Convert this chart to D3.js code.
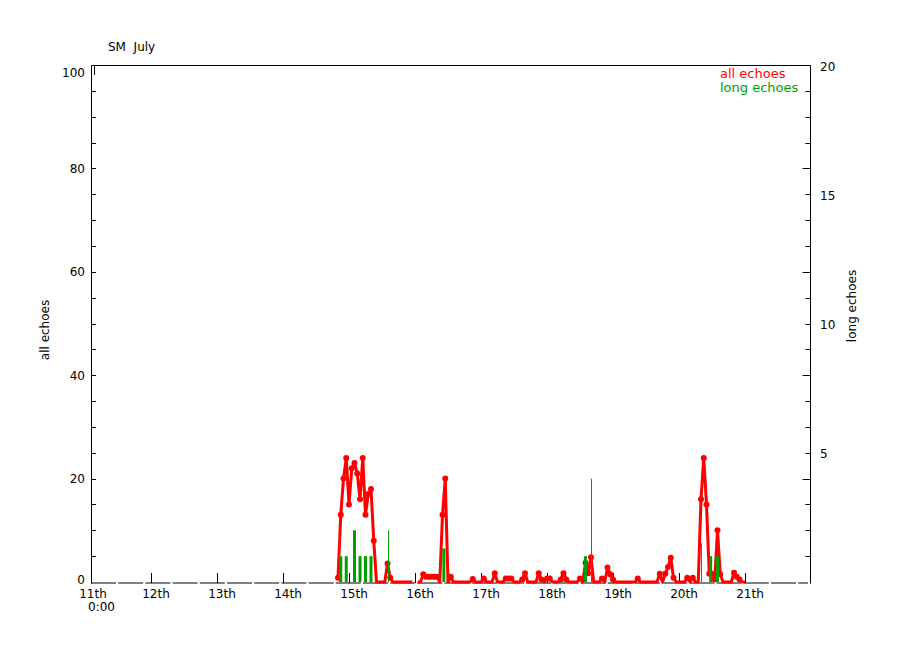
<!DOCTYPE html>
<html><head><meta charset="utf-8">
<script src="https://cdn.jsdelivr.net/npm/d3@7"></script>
<style>
body{margin:0;background:#fff}
svg{display:block}
text{font-family:"DejaVu Sans",sans-serif;font-size:12px;fill:#000}
</style>
</head><body>
<svg id="chart" width="900" height="650"></svg>
<script>
// ---------- data ----------
const title = "SM  July";
const dayLabels = ["11th","12th","13th","14th","15th","16th","17th","18th","19th","20th","21th"];
const dayTicks = [0,1,2,3,4,5,6,7,8,9,10];          // days after 11th 0:00
const leftTickLabels = [0,20,40,60,80,100];
const rightTickLabels = [5,10,15,20];

// all echoes, hourly, starting at hour 92 (14th 20:00); null = no data
const allStartHour = 92;
const allEchoes = [
  0.8, 13, 20, 24, 15, 22, 23, 21, 16, 24, 13, 17,      // 92-103
  18, 8, 0, 0, 0, 0, 3.6, 0.8, 0, 0, 0, 0,              // 104-115
  0, 0, 0, 0, null, 0, 0, 1.5, 1, 1, 1, 1,              // 116-127
  1, 0, 13, 20, 0, 1, 0, 0, 0, 0, 0, 0,                 // 128-139
  0, 0.6, 0, 0, 0, 0.7, 0, 0, 0, 1.7, 0, 0,             // 140-151
  0, 0.7, 0.7, 0.7, 0, 0, 0, 0.5, 1.7, 0, 0, 0,         // 152-163
  0, 1.7, 0.5, 0, 0.7, 0.7, 0, 0, 0, 0.5, 1.7, 0.5,     // 164-175
  0, 0, 0, 0, 0.7, 0, 3.7, 1.7, 4.8, 0, 0, 0,           // 176-187
  0.7, 0, 2.8, 1.5, 0.5, 0, 0, 0, 0, 0, 0, 0,           // 188-199
  0, 0.7, 0, 0, 0, 0, 0, 0, 0, 1.6, 0, 1.6,             // 200-211
  2.9, 4.7, 0.8, 0, 0, 0, 0, 0.8, 0, 0.8, 0, 0,         // 212-223
  16, 24, 15, 1.6, 1.6, 0.5, 10, 1.5, 0, 0, 0, 0,       // 224-235
  1.8, 1, 0.5, 0, 0                                     // 236-240
];

// long echoes (right axis)
const longHours  = [93, 95, 98, 100, 102, 104, 130.5, 182, 227.5, 230];
const longValues = [1, 1, 2, 1, 1, 1, 1.3, 1, 1, 1];
const longPeakHours  = [92.5, 110, 184, 224];
const longPeakValues = [1.75, 2, 4, 1.5];

const legendNames = ["all echoes","long echoes"];

// ---------- layout ----------
const plot = {left: 91, right: 810, top: 65, bottom: 582};
const RED = "#ff0000", GREEN = "#00a000";

const svg = d3.select("#chart");

const x  = d3.scaleLinear().domain([0, 264]).range([85, 811]);   // hours since 11th 0:00
const yL = d3.scaleLinear().domain([0, 100]).range([plot.bottom, plot.top]);
const yR = d3.scaleLinear().domain([0, 20]).range([plot.bottom, plot.top]);

// bottom baseline (segmented)
svg.append("line")
  .attr("x1", plot.left).attr("x2", plot.right - 2)
  .attr("y1", plot.bottom + 1).attr("y2", plot.bottom + 1)
  .attr("stroke", "#000").attr("stroke-width", 1)
  .attr("stroke-dasharray", "25,2.2");

// frame: top, left, right
const frame = svg.append("g").attr("stroke", "#000").attr("stroke-width", 1).attr("fill", "none");
frame.append("path").attr("d",
  `M${plot.left+0.5},${plot.bottom+1.5}V${plot.top+0.5}H${plot.right+0.5}V${plot.bottom+1.5}`);
frame.append("line").attr("x1", plot.left + 3.5).attr("x2", plot.left + 3.5)
  .attr("y1", plot.top).attr("y2", plot.top + 10);

// x ticks + labels
const xg = svg.append("g");
dayTicks.forEach((d, i) => {
  const px = Math.round(x(d * 24)) + 0.5;
  if (d > 0) {
    xg.append("line").attr("x1", px).attr("x2", px)
      .attr("y1", plot.bottom + 1).attr("y2", plot.bottom - 9)
      .attr("stroke", "#000");
  }
  xg.append("text").attr("x", x(d * 24) + (d === 0 ? 8 : 5)).attr("y", 598)
    .attr("text-anchor", "middle").text(dayLabels[i]);
});
xg.append("text").attr("x", x(0) + 3).attr("y", 611).text("0:00");

// left axis ticks every 5 units
const lg = svg.append("g");
d3.range(5, 100, 5).forEach(v => {
  const py = Math.round(yL(v)) + 0.5;
  lg.append("line").attr("x1", plot.left).attr("x2", plot.left + 5)
    .attr("y1", py).attr("y2", py).attr("stroke", "#000");
});
leftTickLabels.forEach(v => {
  lg.append("text").attr("x", 85).attr("y", yL(v) + (v === 100 ? 8 : v === 0 ? -2 : 1))
    .attr("text-anchor", "end").attr("dominant-baseline", "middle").text(v);
});

// right axis ticks every 1 unit, longer every 4
const rg = svg.append("g");
d3.range(1, 20, 1).forEach(v => {
  const py = Math.round(yR(v)) + 0.5;
  const len = (v % 4 === 0) ? 8 : 5;
  rg.append("line").attr("x1", plot.right + 0.5).attr("x2", plot.right + 0.5 - len)
    .attr("y1", py).attr("y2", py).attr("stroke", "#000");
});
rightTickLabels.forEach(v => {
  rg.append("text").attr("x", 820).attr("y", yR(v) + 2)
    .attr("dominant-baseline", "middle").text(v);
});

// axis titles
svg.append("text").attr("transform", "translate(49,330) rotate(-90)")
  .attr("text-anchor", "middle").text("all echoes");
svg.append("text").attr("transform", "translate(856,306) rotate(-90)")
  .attr("text-anchor", "middle").text("long echoes");

// title
svg.append("text").attr("x", 108).attr("y", 51).style("white-space", "pre").text(title);

// all echoes line
const pts = allEchoes.map((v, i) => ({h: allStartHour + i, v}));
const line = d3.line().defined(d => d.v !== null).x(d => x(d.h)).y(d => yL(d.v));
svg.append("path").datum(pts).attr("d", line)
  .attr("fill", "none").attr("stroke", RED).attr("stroke-width", 3)
  .attr("stroke-linejoin", "round");
svg.append("g").selectAll("circle").data(pts.filter(d => d.v !== null && d.v > 0))
  .join("circle").attr("cx", d => x(d.h)).attr("cy", d => yL(d.v)).attr("r", 3)
  .attr("fill", RED);

// long echoes bars
svg.append("g").selectAll("line").data(longHours.map((h, i) => ({h, v: longValues[i]})))
  .join("line").attr("x1", d => x(d.h)).attr("x2", d => x(d.h))
  .attr("y1", yR(0)).attr("y2", d => yR(d.v))
  .attr("stroke", GREEN).attr("stroke-width", 3);
svg.append("g").selectAll("line").data(longPeakHours.map((h, i) => ({h, v: longPeakValues[i]})))
  .join("line").attr("x1", d => Math.round(x(d.h)) + 0.5).attr("x2", d => Math.round(x(d.h)) + 0.5)
  .attr("y1", yR(0)).attr("y2", d => yR(d.v))
  .attr("stroke", GREEN).attr("stroke-width", 1);

// legend
svg.append("text").attr("x", 720).attr("y", 78).style("font-size", "13px")
  .style("fill", RED).text(legendNames[0]);
svg.append("text").attr("x", 720).attr("y", 92).style("font-size", "13px")
  .style("fill", GREEN).text(legendNames[1]);
</script>
</body></html>
